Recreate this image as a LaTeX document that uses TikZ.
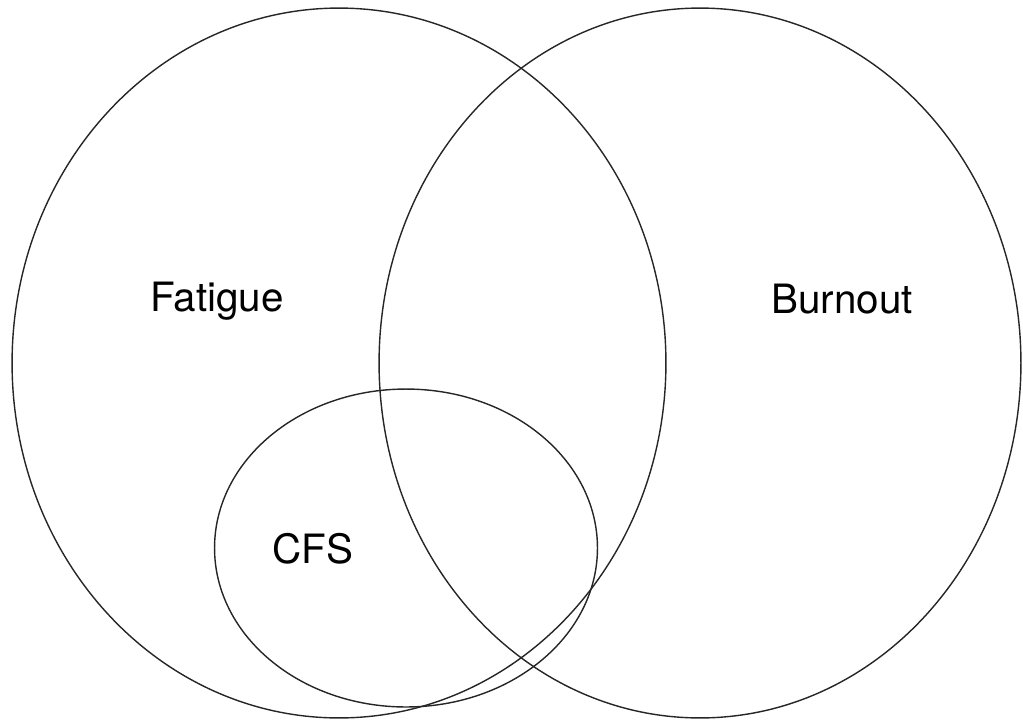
\documentclass[tikz,border=0pt]{standalone}
\usepackage{fontspec}
\setmainfont{TeX Gyre Heros}
\usetikzlibrary{shapes.geometric}

\begin{document}
\begin{tikzpicture}[
    x=0.02cm, y=-0.02cm,
    set/.style={draw=black!85, ellipse, line width=0.8pt, inner sep=0pt, outer sep=0pt},
    lbl/.style={font=\fontsize{23}{26}\selectfont, text=black},
]

% Frame
\useasboundingbox (0,0) rectangle (1023,724);

% ===== SETS =====
\node[set, minimum width=13.08cm, minimum height=14.2cm] (fatigue) at (339,363) {};
\node[set, minimum width=12.84cm, minimum height=14.2cm] (burnout) at (700,363) {};
\node[set, minimum width=7.66cm, minimum height=6.36cm] (cfs) at (406,548) {};

% ===== LABELS =====
\node[lbl] (fatiguelbl) at (217,301) {Fatigue};
\node[lbl] (burnoutlbl) at (842,299) {Burnout};
\node[lbl] (cfslbl) at (313,549) {CFS};

\end{tikzpicture}
\end{document}
